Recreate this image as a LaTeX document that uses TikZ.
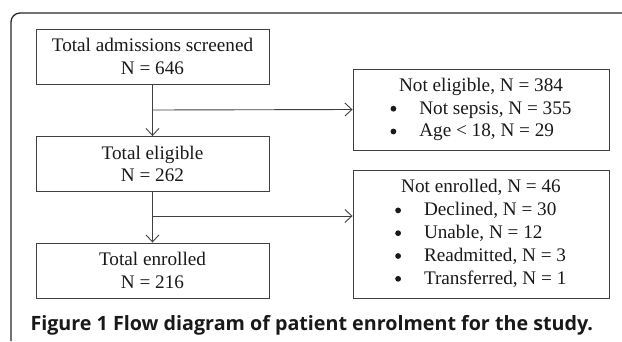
\documentclass[tikz,border=0pt]{standalone}
\usepackage{fontspec}
\setmainfont{Liberation Serif}
\newfontfamily\captionfont{Open Sans}
\usetikzlibrary{arrows.meta}
\usetikzlibrary{positioning}
\newcommand{\listdot}{\raisebox{0.28ex}{\tikz\fill[black!90] (0,0) circle (2.9pt);}}

\begin{document}
\begin{tikzpicture}[
  x=1pt, y=-1pt,
  > = {Straight Barb[length=7pt,width=13pt]},
  every node/.style = {font=\fontsize{19.2}{22.8}\selectfont, text=black!90},
  stage/.style = {draw=black!75, line width=0.9pt, minimum width=233pt, minimum height=55pt, align=center, inner sep=0pt},
  exclbox/.style = {draw=black!75, line width=0.9pt, minimum width=256pt, inner sep=0pt},
  flow/.style = {draw=black!75, line width=0.9pt}
  ]
  \useasboundingbox (0,0) rectangle (622,341);

  % frame of the figure
  \draw[line width=1.3pt, black!85, rounded corners=9pt] (11,341) -- (11,13) -- (622,13);

  \node[stage] (screened) at (152.5,56.5) {Total admissions screened\\N = 646};
  \node[stage] (eligible) at (152.5,164) {Total eligible\\N = 262};
  \node[stage] (enrolled) at (152.5,270.5) {Total enrolled\\N = 216};

  \node[exclbox, minimum height=81pt] (noteligible) at (481,109.5) {%
    \begin{tabular}{@{}c@{\hspace{23pt}}l@{}}
      \multicolumn{2}{c}{Not eligible, N = 384}\\
      \listdot & Not sepsis, N = 355\\
      \listdot & Age < 18, N = 29
    \end{tabular}};
  \node[exclbox, minimum height=128pt] (notenrolled) at (481,234) {%
    \begin{tabular}{@{}c@{\hspace{23pt}}l@{}}
      \multicolumn{2}{c}{Not enrolled, N = 46}\\
      \listdot & Declined, N = 30\\
      \listdot & Unable, N = 12\\
      \listdot & Readmitted, N = 3\\
      \listdot & Transferred, N = 1
    \end{tabular}};

  \coordinate (split1) at (152.5,110);
  \coordinate (split2) at (152.5,216);

  \draw[flow,->] (screened) -- (eligible);
  \draw[flow,->] (split1) -- (noteligible.west);
  \draw[flow,->] (eligible) -- (enrolled);
  \draw[flow,->] (split2) -- (split2 -| notenrolled.west);

  \node[anchor=base west, font=\captionfont\bfseries\fontsize{19.7}{22}\selectfont] (caption) at (27,330) {Figure 1 Flow diagram of patient enrolment for the study.};

\end{tikzpicture}
\end{document}
